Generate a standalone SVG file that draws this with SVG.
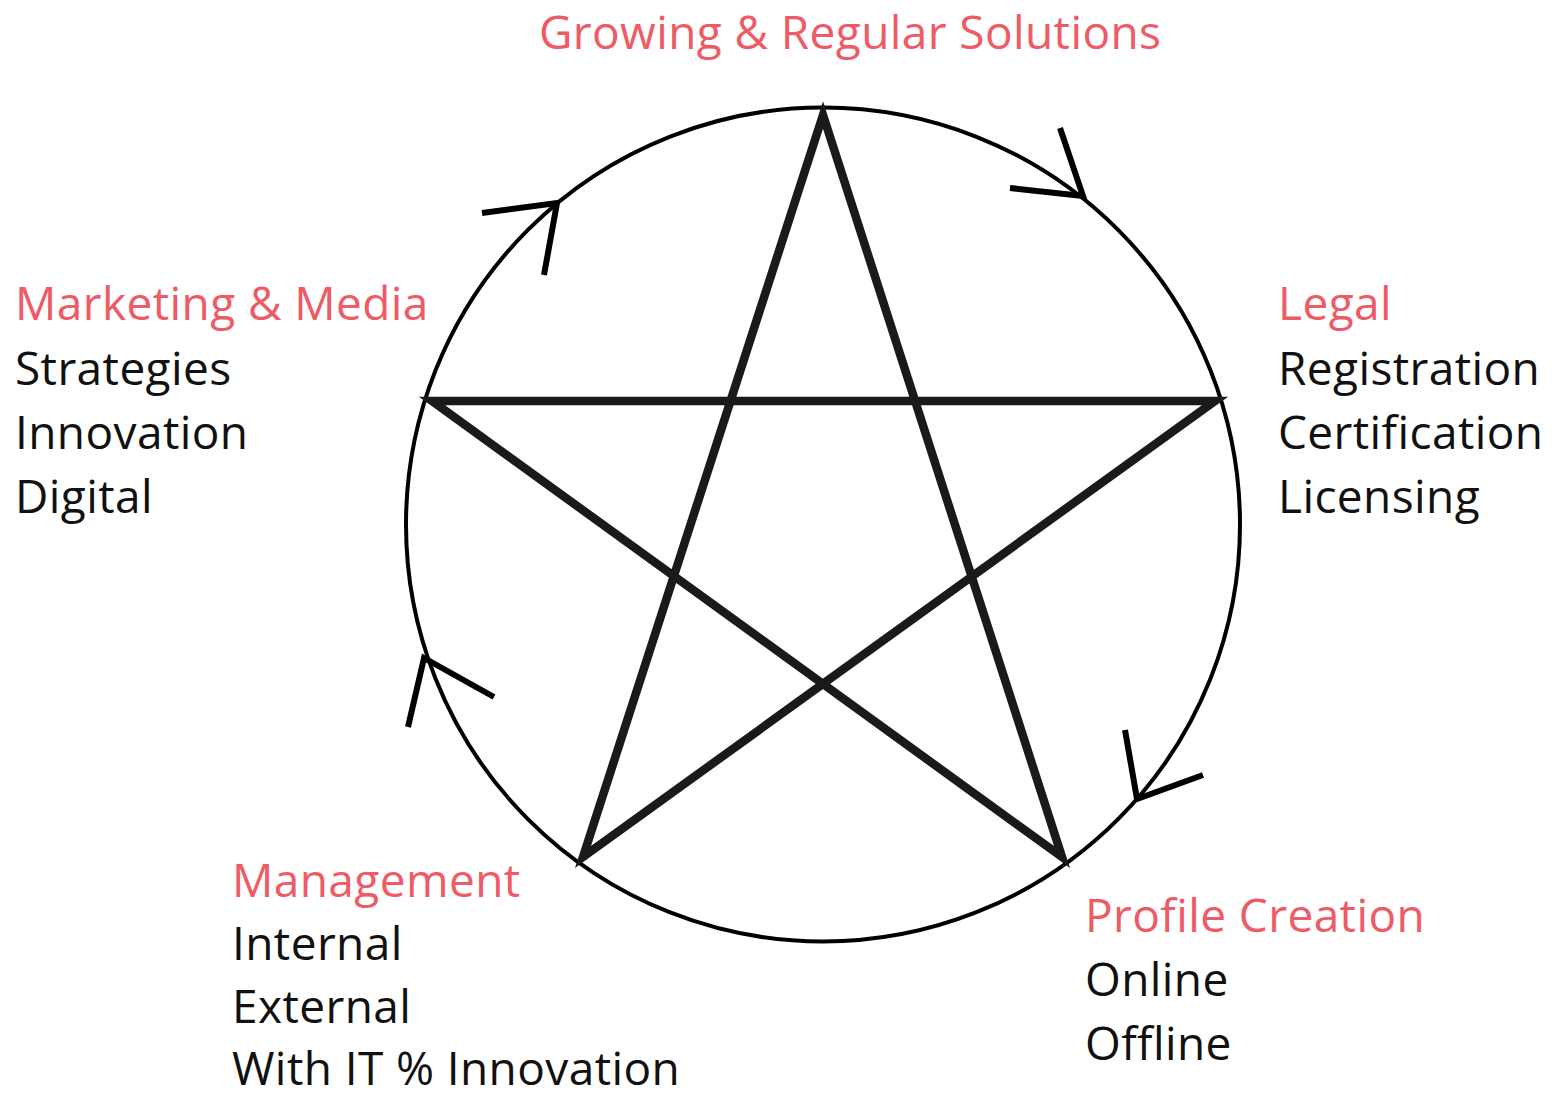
<svg xmlns="http://www.w3.org/2000/svg" width="1566" height="1098" viewBox="0 0 1566 1098">
<style>
.h{font-family:"Open Sans","Noto Sans",sans-serif;font-size:46px;letter-spacing:0.4px;fill:#ee5a65}
.t{font-family:"Open Sans","Noto Sans",sans-serif;font-size:46px;letter-spacing:0.4px;fill:#111}
.arr{fill:none;stroke:#000;stroke-width:6;stroke-linecap:butt;stroke-linejoin:miter}
</style>
<rect width="1566" height="1098" fill="#fff"/>
<g id="diagram">
<circle cx="823" cy="524.5" r="417" fill="none" stroke="#000" stroke-width="4"/>
<polygon points="823,115 1062,857 432,401 1215,401 583,857" fill="none" stroke="#1a1a1a" stroke-width="8.5" stroke-linejoin="miter"/>
</g>
<g id="connectors">
<polyline class="arr" points="482,213 557,203 544,275"/>
<polyline class="arr" points="1060,128 1083,196 1010,188"/>
<polyline class="arr" points="1203,775 1137,799 1125,730"/>
<polyline class="arr" points="408,727 424,658 494,697"/>
</g>
<g id="node-top"><text class="h" x="539" y="49">Growing &amp; Regular Solutions</text></g>
<g id="node-left">
<text class="h" x="15" y="320">Marketing &amp; Media</text>
<text class="t" x="15" y="385">Strategies</text>
<text class="t" x="15" y="449">Innovation</text>
<text class="t" x="15" y="513">Digital</text>
</g>
<g id="node-right">
<text class="h" x="1278" y="320">Legal</text>
<text class="t" x="1278" y="385">Registration</text>
<text class="t" x="1278" y="449">Certification</text>
<text class="t" x="1278" y="513">Licensing</text>
</g>
<g id="node-bottom-left">
<text class="h" x="232" y="897">Management</text>
<text class="t" x="232" y="960">Internal</text>
<text class="t" x="232" y="1023">External</text>
<text class="t" x="232" y="1085">With IT % Innovation</text>
</g>
<g id="node-bottom-right">
<text class="h" x="1085" y="932">Profile Creation</text>
<text class="t" x="1085" y="996">Online</text>
<text class="t" x="1085" y="1060">Offline</text>
</g>
</svg>
